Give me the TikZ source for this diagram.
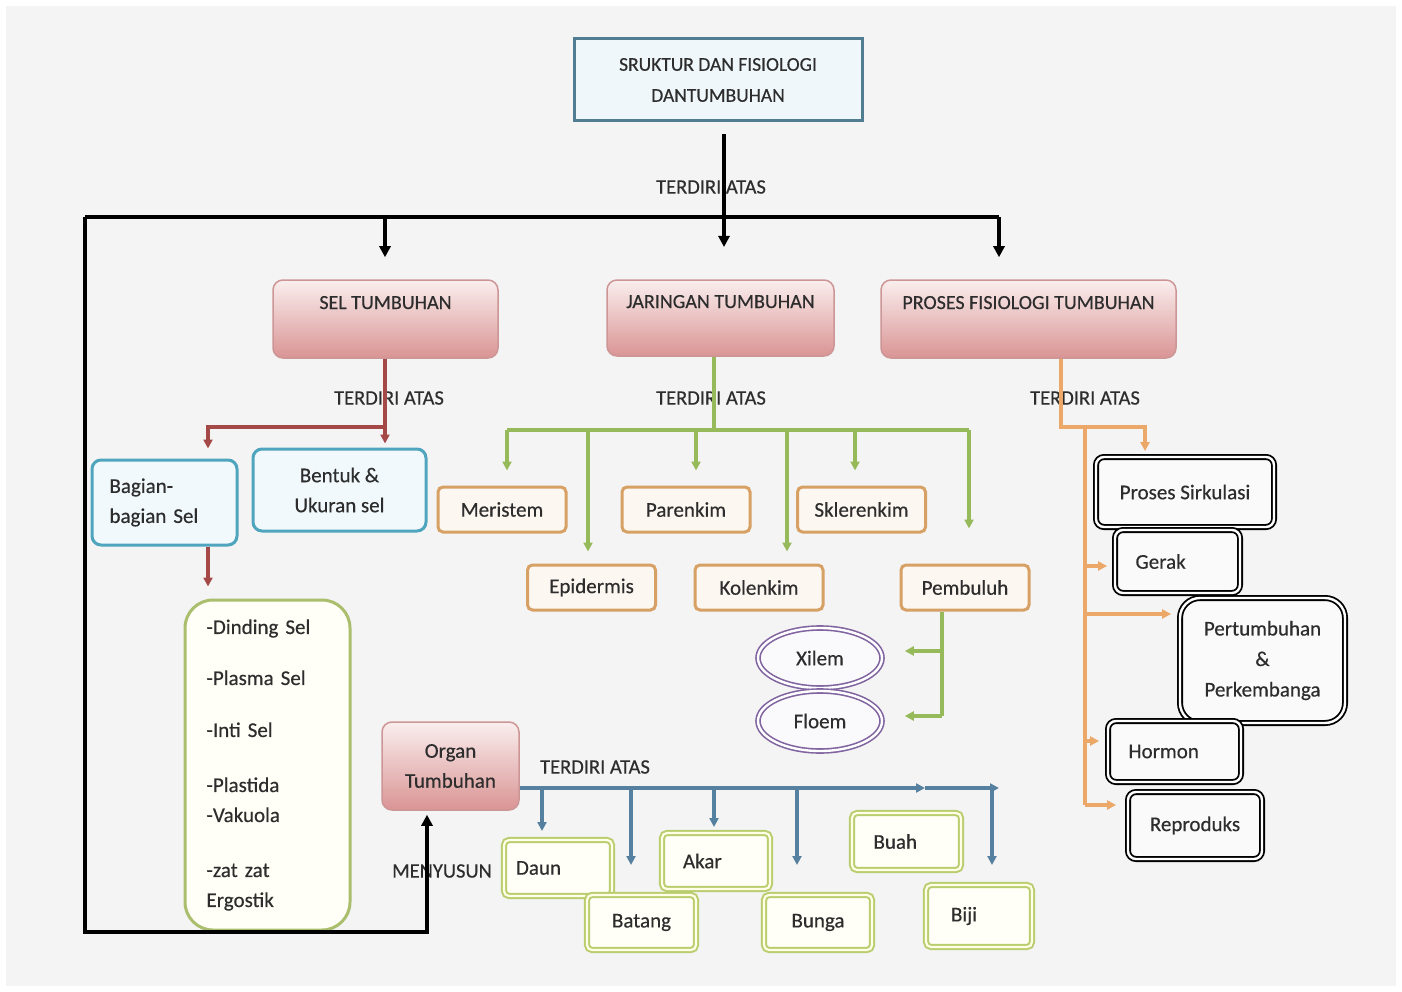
\documentclass[tikz,border=0pt]{standalone}
\usepackage{fontspec}
\setmainfont{Carlito}[FakeBold=0.4]
\usetikzlibrary{arrows.meta,shapes.geometric}
\definecolor{bgc}{RGB}{244,244,244}
\definecolor{titleline}{RGB}{80,125,145}
\definecolor{titlefill}{RGB}{240,247,250}
\definecolor{pinkline}{RGB}{205,150,150}
\definecolor{pinktop}{RGB}{250,238,238}
\definecolor{pinkbot}{RGB}{218,148,148}
\definecolor{redl}{RGB}{165,72,72}
\definecolor{cellblue}{RGB}{80,165,190}
\definecolor{cellfill}{RGB}{242,249,252}
\definecolor{grnl}{RGB}{150,185,90}
\definecolor{listline}{RGB}{170,190,110}
\definecolor{orbox}{RGB}{215,160,100}
\definecolor{orfill}{RGB}{252,247,240}
\definecolor{ornl}{RGB}{236,168,105}
\definecolor{purp}{RGB}{128,100,160}
\definecolor{blul}{RGB}{85,128,160}
\definecolor{ygreen}{RGB}{185,205,110}
\definecolor{txt}{RGB}{45,45,45}
\begin{document}
\begin{tikzpicture}[x=1pt,y=-1pt,
  font=\fontsize{21}{25}\selectfont, text=txt,
  every node/.style={inner sep=0pt},
  arr/.style={-{Triangle[length=11pt,width=11pt]}},
  sarr/.style={-{Triangle[length=9pt,width=9pt]}},
  blk/.style={draw=black,line width=4pt},
  redc/.style={draw=redl,line width=3.5pt},
  grnc/.style={draw=grnl,line width=3.5pt},
  ornc/.style={draw=ornl,line width=3.2pt},
  bluc/.style={draw=blul,line width=3.5pt},
  lbl/.style={font=\fontsize{20.5}{24}\selectfont},
  titlebox/.style={draw=titleline,line width=3pt,fill=titlefill,align=center,
    font=\fontsize{19.5}{31}\selectfont},
  pinkbox/.style={draw=pinkline,line width=1.5pt,rounded corners=10pt,
    top color=pinktop,bottom color=pinkbot,text height=13pt,text depth=33pt,
    font=\fontsize{20}{24}\selectfont},
  cellbox/.style={draw=cellblue,line width=3pt,rounded corners=9pt,fill=cellfill,
    font=\fontsize{21}{30}\selectfont},
  orbx/.style={draw=orbox,line width=3pt,rounded corners=5pt,fill=orfill,
    minimum width=128pt,minimum height=45pt},
  blkbox/.style={draw=black,line width=1.8pt,double=white,double distance=2.4pt,
    rounded corners=8pt,fill=white!96!gray},
  gbox/.style={draw=ygreen,line width=2pt,double=white!90!yellow,double distance=2.2pt,
    rounded corners=5pt,fill=white!97!yellow},
  ell/.style={ellipse,draw=purp,line width=1.6pt,double=white,double distance=2.4pt,
    fill=white!96!purp,minimum width=124pt,minimum height=60pt}
]
% background
\fill[white] (0,0) rectangle (1402,992);
\fill[bgc] (6,6) rectangle (1396,986);

% ---------- nodes ----------
\node[titlebox,minimum width=288pt,minimum height=82pt] (title) at (718,80)
  {SRUKTUR DAN FISIOLOGI\\DANTUMBUHAN};

\node[pinkbox,minimum width=225pt,minimum height=78pt] (sel) at (385.5,319) {SEL TUMBUHAN};
\node[pinkbox,minimum width=227pt,minimum height=76pt] (jar) at (720.5,318) {JARINGAN TUMBUHAN};
\node[pinkbox,minimum width=295pt,minimum height=78pt] (pros) at (1028.5,319) {PROSES FISIOLOGI TUMBUHAN};

\node[cellbox,minimum width=145pt,minimum height=85pt,text width=110pt,align=left]
  (bag) at (164.5,502.5) {Bagian-\\bagian Sel};
\node[cellbox,minimum width=173pt,minimum height=82pt,align=center]
  (bent) at (339.5,490) {Bentuk \&\\Ukuran sel};

\node[draw=listline,line width=3pt,rounded corners=28pt,fill=white!97!yellow,
  minimum width=165pt,minimum height=330pt,text width=122pt,align=left,
  font=\fontsize{21}{30}\selectfont]
  (list) at (267.5,765)
  {-Dinding Sel\\[21pt]-Plasma Sel\\[22pt]-Inti Sel\\[25pt]-Plastida\\-Vakuola\\[25pt]-zat zat\\Ergostik};

\node[orbx] (meri) at (502,509.5) {Meristem};
\node[orbx] (pare) at (686,509.5) {Parenkim};
\node[orbx] (skle) at (861.5,509.5) {Sklerenkim};
\node[orbx] (epid) at (591.5,587.5) {Epidermis};
\node[orbx] (kole) at (759,587.5) {Kolenkim};
\node[orbx] (pemb) at (965,587.5) {Pembuluh};

\node[ell] (xilem) at (820,658) {Xilem};
\node[ell] (floem) at (820,721) {Floem};

\node[blkbox,minimum width=178pt,minimum height=70pt] (sirk) at (1185,492) {Proses Sirkulasi};
\node[blkbox,minimum width=125pt,minimum height=63pt,text width=84pt,align=left] (gerak) at (1177.5,561.5) {Gerak};
\node[blkbox,rounded corners=20pt,minimum width=165pt,minimum height=125pt,align=center,
  font=\fontsize{21}{30.5}\selectfont] (pert) at (1262.5,660.5) {Pertumbuhan\\\&\\Perkembanga};
\node[blkbox,minimum width=133pt,minimum height=61pt,text width=92pt,align=left] (horm) at (1174.5,751.5) {Hormon};
\node[blkbox,minimum width=134pt,minimum height=67pt] (repr) at (1195,825.5) {Reproduks};

\node[draw=pinkline,line width=1.5pt,rounded corners=10pt,top color=pinktop,bottom color=pinkbot,
  minimum width=137pt,minimum height=88pt,align=center,font=\fontsize{21}{30}\selectfont]
  (organ) at (450.5,766) {Organ\\Tumbuhan};

\node[gbox,minimum width=108pt,minimum height=56pt,text width=84pt,align=left] (daun) at (558,868) {Daun};
\node[gbox,minimum width=109pt,minimum height=55pt] (batang) at (641.5,922.5) {Batang};
\node[gbox,minimum width=108pt,minimum height=56pt,text width=66pt,align=left] (akar) at (716,861) {Akar};
\node[gbox,minimum width=108pt,minimum height=55pt,text width=66pt,align=center] (bunga) at (818,922.5) {Bunga};
\node[gbox,minimum width=109pt,minimum height=57pt,text width=66pt,align=left] (buah) at (906.5,841.5) {Buah};
\node[gbox,minimum width=106pt,minimum height=62pt,text width=56pt,align=left] (biji) at (979,916) {Biji};

% ---------- labels ----------
\node[lbl] (t0) at (711,187) {TERDIRI ATAS};
\node[lbl] (t1) at (389,398) {TERDIRI ATAS};
\node[lbl] (t2) at (711,398) {TERDIRI ATAS};
\node[lbl] (t3) at (1085,398) {TERDIRI ATAS};
\node[lbl] (t4) at (595,767) {TERDIRI ATAS};
\node[lbl] (t5) at (442,871) {MENYUSUN};

% ---------- black connectors ----------
\coordinate (busL) at (85,217);
\coordinate (busR) at (999,217);
\coordinate (bus1) at (385,217);
\coordinate (m2) at (724,247);
\coordinate (loopc) at (85,932);
\coordinate (loopd) at (427,932);
\draw[blk] (busL) -- (busR);
\draw[blk,arr] ([yshift=-12pt]title.south -| m2) -- (m2);
\draw[blk,arr,shorten >=22pt] (bus1) -- (bus1 |- sel.north);
\draw[blk,arr,shorten >=22pt] (busR) -- (busR |- pros.north);
\draw[blk,arr,shorten >=4pt] (busL) -- (loopc) -- (loopd) -- (loopd |- organ.south);

% ---------- red connectors ----------
\coordinate (r0) at (385,427);
\coordinate (r1) at (208,427);
\draw[redc,sarr,shorten >=4pt] (sel.south -| r0) -- (r0 |- bent.north);
\draw[redc,sarr,shorten >=10pt] (r0) -- (r1) -- (r1 |- bag.north);
\draw[redc,sarr,shorten >=12pt] (bag.south -| r1) -- (r1 |- list.north);

% ---------- green connectors ----------
\coordinate (g0) at (714,430);
\coordinate (gL) at (507,430);
\coordinate (gR) at (969,430);
\coordinate (g2) at (588,430);
\coordinate (g3) at (696,430);
\coordinate (g4) at (787,430);
\coordinate (g5) at (855,430);
\draw[grnc] (jar.south -| g0) -- (g0);
\draw[grnc] (gL) -- (gR);
\draw[grnc,sarr,shorten >=15pt] (gL) -- (gL |- meri.north);
\draw[grnc,sarr,shorten >=12pt] (g2) -- (g2 |- epid.north);
\draw[grnc,sarr,shorten >=15pt] (g3) -- (g3 |- pare.north);
\draw[grnc,sarr,shorten >=12pt] (g4) -- (g4 |- kole.north);
\draw[grnc,sarr,shorten >=15pt] (g5) -- (g5 |- skle.north);
\draw[grnc,sarr,shorten >=35pt] (gR) -- (gR |- pemb.north);
\coordinate (p1) at (942,651);
\coordinate (p2) at (942,716);
\draw[grnc] (pemb.south -| p1) -- (p2);
\draw[grnc,sarr,shorten >=22pt] (p1) -- (p1 -| xilem.east);
\draw[grnc,sarr,shorten >=22pt] (p2) -- (p2 -| floem.east);

% ---------- orange connectors ----------
\coordinate (o0) at (1061,427);
\coordinate (o1) at (1145,427);
\coordinate (o2) at (1085,427);
\coordinate (o3) at (1085,805);
\coordinate (o4) at (1085,614);
\coordinate (o5) at (1085,741);
\coordinate (o6) at (1085,566);
\draw[ornc,sarr,shorten >=5pt] (pros.south -| o0) -- (o0) -- (o1) -- (o1 |- sirk.north);
\draw[ornc] (o2) -- (o3);
\draw[ornc,sarr,shorten >=7pt] (o6) -- (o6 -| gerak.west);
\draw[ornc,sarr,shorten >=8pt] (o4) -- (o4 -| pert.west);
\draw[ornc,sarr,shorten >=8pt] (o5) -- (o5 -| horm.west);
\draw[ornc,sarr,shorten >=11pt] (o3) -- (o3 -| repr.west);

% ---------- blue connectors ----------
\coordinate (bm) at (925,788);
\coordinate (be) at (999,788);
\coordinate (b1) at (542,788);
\coordinate (b2) at (631,788);
\coordinate (b3) at (714,788);
\coordinate (b4) at (797,788);
\coordinate (b5) at (992,788);
\draw[bluc,sarr] (organ.east |- bm) -- (bm);
\draw[bluc,sarr] (bm) -- (be);
\draw[bluc,sarr,shorten >=8pt] (b1) -- (b1 |- daun.north);
\draw[bluc,sarr,shorten >=29pt] (b2) -- (b2 |- batang.north);
\draw[bluc,sarr,shorten >=5pt] (b3) -- (b3 |- akar.north);
\draw[bluc,sarr,shorten >=29pt] (b4) -- (b4 |- bunga.north);
\draw[bluc,sarr,shorten >=19pt] (b5) -- (b5 |- biji.north);
\end{tikzpicture}
\end{document}
